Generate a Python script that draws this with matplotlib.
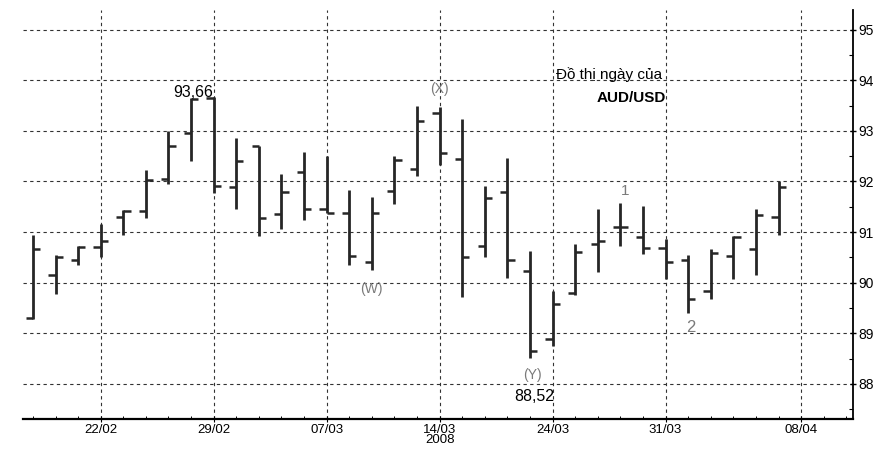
import matplotlib
matplotlib.use("Agg")
import matplotlib.pyplot as plt
import numpy as np
from matplotlib.ticker import MultipleLocator

plt.rcParams["font.family"] = ["Liberation Sans", "DejaVu Sans"]

# ── daily OHLC, AUD/USD, 19/02 – 07/04/2008 (trading days) ──
opens = [89.30, 90.16, 90.45, 90.71, 91.29, 91.42, 92.05, 92.96, 93.64, 91.90,
         92.71, 91.36, 92.19, 91.45, 91.38, 90.40, 91.82, 92.24, 93.36, 92.44,
         90.73, 91.80, 90.23, 88.88, 89.79, 90.76, 91.10, 90.90, 90.69, 90.44,
         89.84, 90.53, 90.67, 91.29]
highs = [90.95, 90.54, 90.73, 91.16, 91.44, 92.23, 93.00, 93.65, 93.66, 92.85,
         92.71, 92.14, 92.58, 92.50, 91.83, 91.69, 92.50, 93.49, 93.47, 93.23,
         91.92, 92.46, 90.63, 89.83, 90.76, 91.46, 91.58, 91.51, 90.87, 90.54,
         90.67, 90.92, 91.46, 92.01]
lows = [89.29, 89.78, 90.36, 90.51, 90.95, 91.27, 91.95, 92.40, 91.78, 91.45,
        90.93, 91.07, 91.24, 91.37, 90.36, 90.26, 91.56, 92.11, 92.33, 89.72,
        90.50, 90.09, 88.52, 88.75, 89.75, 90.22, 90.73, 90.56, 90.07, 89.41,
        89.68, 90.08, 90.16, 90.95]
closes = [90.66, 90.51, 90.71, 90.82, 91.42, 92.02, 92.70, 93.63, 91.92, 92.40,
          91.28, 91.80, 91.45, 91.37, 90.53, 91.37, 92.42, 93.20, 92.56, 90.50,
          91.67, 90.45, 88.66, 89.58, 90.60, 90.82, 91.10, 90.69, 90.41, 89.68,
          90.59, 90.90, 91.33, 91.90]

# date ticks (trading-day index) and their labels
tick_idx = [3, 8, 13, 18, 23, 28, 34]
tick_labels = ["22/02", "29/02", "07/03", "14/03\n2008", "24/03", "31/03", "08/04"]
price_ticks = [88, 89, 90, 91, 92, 93, 94, 95]

BAR = "#262626"
GRID = "#333333"
HAND = "#7a7a7a"

fig = plt.figure(figsize=(8.84, 4.5), dpi=100)
ax = fig.add_axes([0.026, 0.068, 0.939, 0.910])

x = np.arange(len(opens))
w = 0.32
ax.vlines(x, lows, highs, color=BAR, lw=2.0, zorder=3)
ax.hlines(opens, x - w, x, color=BAR, lw=1.8, zorder=3)
ax.hlines(closes, x, x + w, color=BAR, lw=1.8, zorder=3)

ax.set_xlim(-0.44, 36.3)
ax.set_ylim(87.3, 95.39)

# ── axes: only bottom + right ──
for s in ("left", "top"):
    ax.spines[s].set_visible(False)
ax.spines["right"].set_linewidth(1.3)
ax.spines["bottom"].set_linewidth(1.6)
ax.yaxis.tick_right()
ax.set_yticks(price_ticks)
ax.set_yticklabels([str(v) for v in price_ticks])
ax.yaxis.set_minor_locator(MultipleLocator(0.5))
ax.set_xticks(tick_idx)
ax.set_xticklabels(tick_labels, linespacing=0.85)
ax.xaxis.set_minor_locator(MultipleLocator(1))
ax.tick_params(axis="y", which="major", direction="inout", length=5, width=1,
               labelsize=10, pad=1)
ax.tick_params(axis="y", which="minor", direction="in", length=3, width=0.8)
ax.tick_params(axis="x", which="major", direction="inout", length=4, width=0.8,
               labelsize=9.5, pad=1)
ax.tick_params(axis="x", which="minor", direction="in", length=2, width=0.7)

ax.grid(True, which="major", color=GRID, ls=(0, (3, 3)), lw=0.8)
ax.set_axisbelow(True)

# ── annotations ──
ax.text(25.5, 94.11, "Đồ thị ngày của", ha="center", va="center", fontsize=11)
ax.text(26.5, 93.64, "AUD/USD", ha="center", va="center", fontsize=11,
        fontweight="bold")
ax.text(7.1, 93.76, "93,66", ha="center", va="center", fontsize=11.5)
ax.text(22.2, 87.76, "88,52", ha="center", va="center", fontsize=11.5)
ax.text(18.0, 93.82, "(X)", ha="center", va="center", fontsize=10, color=HAND)
ax.text(15.0, 89.87, "(W)", ha="center", va="center", fontsize=10, color=HAND)
ax.text(22.1, 88.18, "(Y)", ha="center", va="center", fontsize=10, color=HAND)
ax.text(26.2, 91.82, "1", ha="center", va="center", fontsize=11, color=HAND)
ax.text(29.1, 89.12, "2", ha="center", va="center", fontsize=12, color=HAND)

fig.savefig("out.png", dpi=100, facecolor="white")
